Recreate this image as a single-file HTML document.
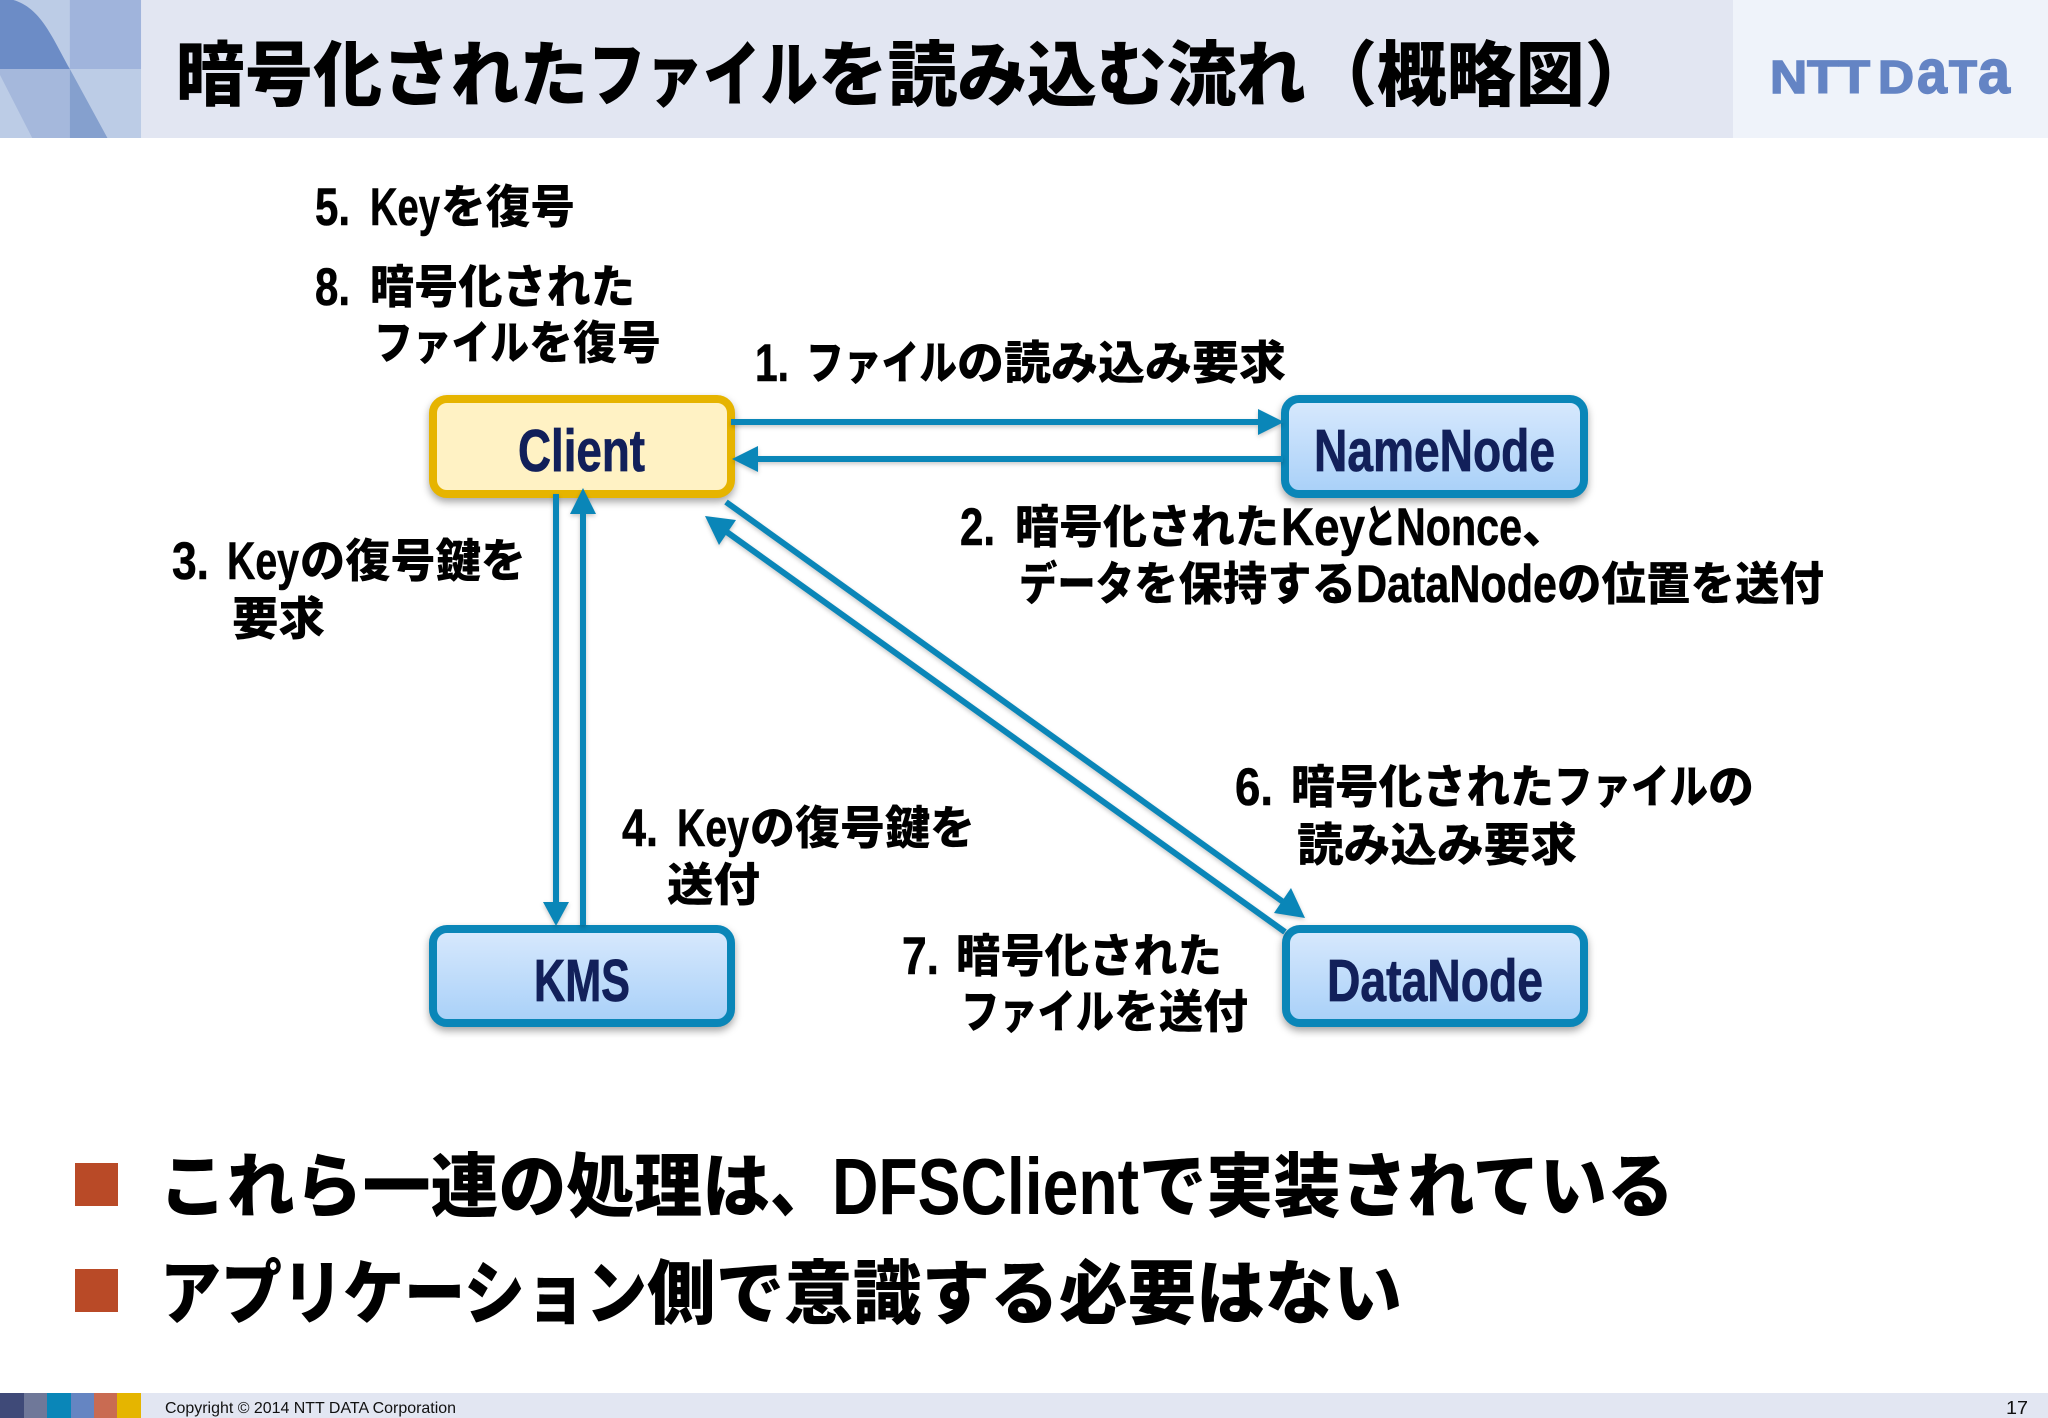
<!DOCTYPE html>
<html lang="ja"><head><meta charset="utf-8"><title>暗号化されたファイルを読み込む流れ（概略図）</title>
<style>
html,body{margin:0;padding:0;background:#fff}
svg{display:block}
text{font-family:"Liberation Sans","Noto Sans CJK JP",sans-serif}
.t{font-size:71px;font-weight:900;fill:#000}
.l{font-size:46px;font-weight:900;fill:#000}
.a{font-size:53px;font-weight:700;fill:#000;stroke:#000;stroke-width:.6px}
.b{font-size:70px;font-weight:900;fill:#000}
.c{font-size:80px;font-weight:700;fill:#000}
.n{font-size:59px;font-weight:700;fill:#12205a;stroke:#12205a;stroke-width:.8px}
.lg{font-size:46px;font-weight:700;fill:#6484c4;stroke:#6484c4;stroke-width:1.5px}
.box{filter:drop-shadow(0 4px 4px rgba(0,0,0,.35))}
.ar{filter:drop-shadow(0 2px 2px rgba(0,0,0,.22))}
</style></head><body>
<svg width="2048" height="1418" viewBox="0 0 2048 1418" xmlns="http://www.w3.org/2000/svg">
<defs>
<linearGradient id="bl" x1="0" y1="0" x2="0" y2="1"><stop offset="0" stop-color="#d8e9fd"/><stop offset="1" stop-color="#a8d0f8"/></linearGradient>
</defs>
<rect width="2048" height="1418" fill="#fff"/>
<!-- header -->
<rect x="141" y="0" width="1592" height="138" fill="#e2e6f2"/>
<rect x="1733" y="0" width="315" height="138" fill="#eff3fa"/>
<g transform="scale(1.343,1)">
<rect x="0" y="0" width="105" height="138" fill="#bccce6"/>
<rect x="52" y="0" width="53" height="69" fill="#a0b4dc"/>
<path d="M0 0H10C30 8 38 35 52 69H0Z" fill="#6c8cc6"/>
<path d="M0 69H52V138H24L0 75Z" fill="#a5b8dc"/>
<path d="M52 69L80 138H52Z" fill="#85a0ce"/>
</g>
<g class="tg">
<text class="t" x="176" y="100" textLength="412" lengthAdjust="spacingAndGlyphs">暗号化された</text>
<text class="t" x="588" y="100" textLength="230" lengthAdjust="spacingAndGlyphs">ファイル</text>
<text class="t" x="818" y="100" textLength="488" lengthAdjust="spacingAndGlyphs">を読み込む流れ</text>
<text class="t" x="1308" y="100" textLength="346" lengthAdjust="spacingAndGlyphs">（概略図）</text>
</g>
<text class="lg" x="1770" y="93" textLength="100" lengthAdjust="spacingAndGlyphs">NTT</text>
<text class="lg" x="1878" y="93" textLength="36" lengthAdjust="spacingAndGlyphs">D</text>
<text class="lg" x="1917" y="93" style="font-size:62px" textLength="30" lengthAdjust="spacingAndGlyphs">a</text>
<text class="lg" x="1949" y="93" textLength="28" lengthAdjust="spacingAndGlyphs">T</text>
<text class="lg" x="1978" y="93" style="font-size:62px" textLength="32" lengthAdjust="spacingAndGlyphs">a</text>

<!-- boxes -->
<g class="box">
<rect x="433" y="399" width="298" height="95" rx="14" fill="#fff2c4" stroke="#e6b400" stroke-width="8"/>
<rect x="1285" y="399" width="299" height="95" rx="14" fill="url(#bl)" stroke="#0a86b8" stroke-width="8"/>
<rect x="433" y="929" width="298" height="94" rx="14" fill="url(#bl)" stroke="#0a86b8" stroke-width="8"/>
<rect x="1286" y="929" width="298" height="94" rx="14" fill="url(#bl)" stroke="#0a86b8" stroke-width="8"/>
</g>
<!-- arrows -->
<g class="ar" fill="#0a86b8" stroke="none">
<rect x="731" y="419" width="530" height="6"/><path d="M1284 422L1258 409V435Z"/>
<rect x="755" y="456" width="528" height="6"/><path d="M732 459L758 446V472Z"/>
<rect x="553" y="494" width="6" height="410"/><path d="M556 926L543 902H569Z"/>
<rect x="580" y="512" width="6" height="413"/><path d="M583 488L570 514H596Z"/>
<path d="M726 502L1286 904" stroke="#0a86b8" stroke-width="6" fill="none"/><path d="M1305 918L1274 913L1291 888Z"/>
<path d="M1285 932L724 530" stroke="#0a86b8" stroke-width="6" fill="none"/><path d="M705 516L736 520L719 545Z"/>
</g>
<text class="n" x="518" y="471" textLength="127" lengthAdjust="spacingAndGlyphs">Client</text>
<text class="n" x="1314" y="471" textLength="241" lengthAdjust="spacingAndGlyphs">NameNode</text>
<text class="n" x="534" y="1001" textLength="96" lengthAdjust="spacingAndGlyphs">KMS</text>
<text class="n" x="1327" y="1001" textLength="216" lengthAdjust="spacingAndGlyphs">DataNode</text>

<!-- labels -->
<text class="a" x="315" y="225" textLength="35" lengthAdjust="spacingAndGlyphs">5.</text>
<text class="a" x="370" y="225" textLength="70" lengthAdjust="spacingAndGlyphs">Key</text>
<text class="l" x="441" y="223" textLength="134" lengthAdjust="spacingAndGlyphs">を復号</text>

<text class="a" x="315" y="305" textLength="35" lengthAdjust="spacingAndGlyphs">8.</text>
<text class="l" x="370" y="303" textLength="265" lengthAdjust="spacingAndGlyphs">暗号化された</text>
<text class="l" x="374" y="359" textLength="155" lengthAdjust="spacingAndGlyphs">ファイル</text>
<text class="l" x="529" y="359" textLength="132" lengthAdjust="spacingAndGlyphs">を復号</text>

<text class="a" x="755" y="381" textLength="34" lengthAdjust="spacingAndGlyphs">1.</text>
<text class="l" x="806" y="379" textLength="151" lengthAdjust="spacingAndGlyphs">ファイル</text>
<text class="l" x="957" y="379" textLength="329" lengthAdjust="spacingAndGlyphs">の読み込み要求</text>

<text class="a" x="960" y="545" textLength="35" lengthAdjust="spacingAndGlyphs">2.</text>
<text class="l" x="1015" y="543" textLength="264" lengthAdjust="spacingAndGlyphs">暗号化された</text>
<text class="a" x="1281" y="545" textLength="84" lengthAdjust="spacingAndGlyphs">Key</text>
<text class="l" x="1364" y="543" textLength="32" lengthAdjust="spacingAndGlyphs">と</text>
<text class="a" x="1396" y="545" textLength="126" lengthAdjust="spacingAndGlyphs">Nonce</text>
<text class="l" x="1522" y="543" textLength="46" lengthAdjust="spacingAndGlyphs">、</text>

<text class="l" x="1019" y="600" textLength="115" lengthAdjust="spacingAndGlyphs">データ</text>
<text class="l" x="1134" y="600" textLength="222" lengthAdjust="spacingAndGlyphs">を保持する</text>
<text class="a" x="1356" y="602" textLength="201" lengthAdjust="spacingAndGlyphs">DataNode</text>
<text class="l" x="1557" y="600" textLength="267" lengthAdjust="spacingAndGlyphs">の位置を送付</text>

<text class="a" x="172" y="579" textLength="37" lengthAdjust="spacingAndGlyphs">3.</text>
<text class="a" x="227" y="579" textLength="72" lengthAdjust="spacingAndGlyphs">Key</text>
<text class="l" x="300" y="577" textLength="226" lengthAdjust="spacingAndGlyphs">の復号鍵を</text>
<text class="l" x="232" y="635" textLength="93" lengthAdjust="spacingAndGlyphs">要求</text>

<text class="a" x="622" y="846" textLength="36" lengthAdjust="spacingAndGlyphs">4.</text>
<text class="a" x="677" y="846" textLength="72" lengthAdjust="spacingAndGlyphs">Key</text>
<text class="l" x="750" y="844" textLength="225" lengthAdjust="spacingAndGlyphs">の復号鍵を</text>
<text class="l" x="667" y="901" textLength="93" lengthAdjust="spacingAndGlyphs">送付</text>

<text class="a" x="1235" y="805" textLength="38" lengthAdjust="spacingAndGlyphs">6.</text>
<text class="l" x="1291" y="803" textLength="263" lengthAdjust="spacingAndGlyphs">暗号化された</text>
<text class="l" x="1554" y="803" textLength="154" lengthAdjust="spacingAndGlyphs">ファイル</text>
<text class="l" x="1708" y="803" textLength="46" lengthAdjust="spacingAndGlyphs">の</text>
<text class="l" x="1297" y="861" textLength="280" lengthAdjust="spacingAndGlyphs">読み込み要求</text>

<text class="a" x="902" y="974" textLength="37" lengthAdjust="spacingAndGlyphs">7.</text>
<text class="l" x="956" y="972" textLength="266" lengthAdjust="spacingAndGlyphs">暗号化された</text>
<text class="l" x="961" y="1028" textLength="153" lengthAdjust="spacingAndGlyphs">ファイル</text>
<text class="l" x="1114" y="1028" textLength="134" lengthAdjust="spacingAndGlyphs">を送付</text>

<!-- bullets -->
<rect x="75" y="1163" width="43" height="43" fill="#b94a27"/>
<rect x="75" y="1269" width="43" height="43" fill="#b94a27"/>
<text class="b" x="159" y="1211" textLength="611" lengthAdjust="spacingAndGlyphs">これら一連の処理は</text>
<text class="b" x="770" y="1211" textLength="62" lengthAdjust="spacingAndGlyphs">、</text>
<text class="c" x="832" y="1214" textLength="307" lengthAdjust="spacingAndGlyphs">DFSClient</text>
<text class="b" x="1139" y="1211" textLength="535" lengthAdjust="spacingAndGlyphs">で実装されている</text>
<text class="b" x="160" y="1318" textLength="487" lengthAdjust="spacingAndGlyphs">アプリケーション</text>
<text class="b" x="647" y="1318" textLength="755" lengthAdjust="spacingAndGlyphs">側で意識する必要はない</text>

<!-- footer -->
<rect x="0" y="1393" width="2048" height="25" fill="#e2e6f2"/>
<rect x="0" y="1393" width="24" height="25" fill="#3f4a78"/>
<rect x="24" y="1393" width="23" height="25" fill="#6f7899"/>
<rect x="47" y="1393" width="24" height="25" fill="#0a86b8"/>
<rect x="71" y="1393" width="23" height="25" fill="#6585c2"/>
<rect x="94" y="1393" width="23" height="25" fill="#c96b52"/>
<rect x="117" y="1393" width="24" height="25" fill="#e5b500"/>
<text x="165" y="1413" font-size="16" fill="#111" textLength="291" lengthAdjust="spacingAndGlyphs">Copyright © 2014 NTT DATA Corporation</text>
<text x="2006" y="1414" font-size="18" fill="#111" textLength="22" lengthAdjust="spacingAndGlyphs">17</text>
</svg>
</body></html>
